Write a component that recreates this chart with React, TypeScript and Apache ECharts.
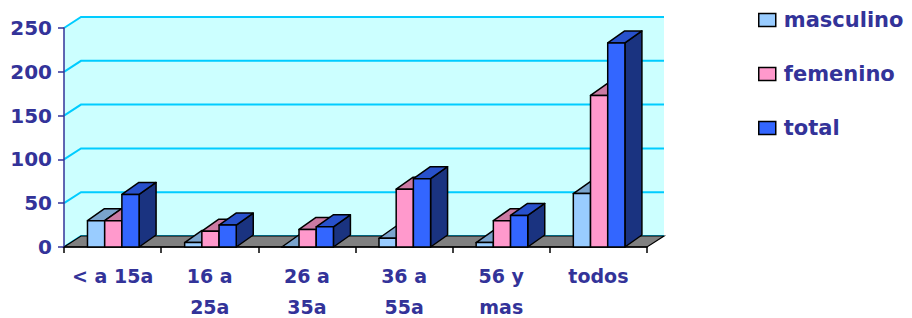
import React, { useEffect, useRef } from "react";
import * as echarts from "echarts";

const categories = ["< a 15a", "16 a\n25a", "26 a\n35a", "36 a\n55a", "56 y\nmas", "todos"];
const masculino = [30, 5, 0, 10, 5, 61];
const femenino = [30, 18, 20, 66, 30, 173];
const total = [60, 25, 23, 78, 36, 233];
const yTicks = [0, 50, 100, 150, 200, 250];
const seriesNames = ["masculino", "femenino", "total"];

const NAVY = "#333399";
const FONT = "DejaVu Sans";
const BAR_DX = 17;
const BAR_DY = -12;
const WALL_DX = 17;
const WALL_DY = -11;

const palettes = [
  { front: "#99CCFF", top: "#7AA3CC", side: "#4D6680" },
  { front: "#FF99CC", top: "#CC7AA3", side: "#804D66" },
  { front: "#3366FF", top: "#2851CC", side: "#1A3380" },
];

function barRenderer(idx: number) {
  const pal = palettes[idx];
  return (params: any, api: any) => {
    const ci = api.value(0);
    const v = api.value(1);
    const p1 = api.coord([ci, v]);
    const p0 = api.coord([ci, 0]);
    const cx = p1[0];
    const y1 = p1[1];
    const y0 = p0[1];
    const cw = api.size([1, 0])[0];
    const bw = cw * 0.177;
    const x0 = cx - 1.5 * bw + idx * bw + 0.7;
    const x1 = x0 + bw;
    const st = { stroke: "#000", lineWidth: 1.5, lineJoin: "round" };
    return {
      type: "group",
      children: [
        {
          type: "polygon",
          shape: { points: [[x1, y1], [x1 + BAR_DX, y1 + BAR_DY], [x1 + BAR_DX, y0 + BAR_DY], [x1, y0]] },
          style: { fill: pal.side, ...st },
        },
        {
          type: "polygon",
          shape: { points: [[x0, y1], [x1, y1], [x1 + BAR_DX, y1 + BAR_DY], [x0 + BAR_DX, y1 + BAR_DY]] },
          style: { fill: pal.top, ...st },
        },
        {
          type: "rect",
          shape: { x: x0, y: y1, width: bw, height: y0 - y1 },
          style: { fill: pal.front, ...st },
        },
      ],
    };
  };
}

function wallRenderer(params: any, api: any) {
  const cs = params.coordSys;
  const L = cs.x;
  const R = cs.x + cs.width;
  const T = cs.y;
  const B = cs.y + cs.height;
  const children: any[] = [
    {
      type: "polygon",
      shape: { points: [[L, T], [L + WALL_DX, T + WALL_DY], [R + WALL_DX, T + WALL_DY], [R + WALL_DX, B + WALL_DY], [L + WALL_DX, B + WALL_DY], [L, B]] },
      style: { fill: "#CCFFFF", stroke: null },
    },
  ];
  yTicks.forEach((t) => {
    const y = api.coord([0, t])[1];
    children.push({
      type: "polyline",
      shape: { points: [[L, y], [L + WALL_DX, y + WALL_DY], [R + WALL_DX, y + WALL_DY]] },
      style: { stroke: "#00CCFF", lineWidth: 2, fill: null },
    });
  });
  children.push({
    type: "polygon",
    shape: { points: [[L, B], [R, B], [R + WALL_DX, B + WALL_DY], [L + WALL_DX, B + WALL_DY]] },
    style: { fill: "#808080", stroke: "#000", lineWidth: 1.2 },
  });
  return { type: "group", children };
}

const labelStyle = { color: NAVY, fontFamily: FONT, fontWeight: "bold", fontSize: 19 };

export default function App() {
  const ref = useRef<HTMLDivElement>(null);
  useEffect(() => {
    if (!ref.current) return;
    const chart = echarts.init(ref.current, undefined, { renderer: "svg" });
    const valuesBySeries = [masculino, femenino, total];
    chart.setOption({
      animation: false,
      backgroundColor: "#ffffff",
      grid: { left: 64, right: 265, top: 28, bottom: 71, containLabel: false, outerBoundsMode: "none" },
      legend: {
        orient: "vertical",
        left: 758,
        top: 8,
        padding: 0,
        itemWidth: 17,
        itemHeight: 13,
        itemGap: 30,
        icon: "rect",
        itemStyle: { borderColor: "#000", borderWidth: 1.5 },
        textStyle: {
          color: NAVY,
          fontFamily: FONT,
          fontWeight: "bold",
          fontSize: 21,
          lineHeight: 24,
          padding: [0, 0, 0, 3],
        },
        data: seriesNames,
      },
      xAxis: {
        type: "category",
        data: categories,
        boundaryGap: true,
        axisLine: { show: true, lineStyle: { color: "#000", width: 1.5 } },
        axisTick: { show: true, length: 6, lineStyle: { color: "#000", width: 1.5 } },
        axisLabel: {
          ...labelStyle,
          margin: 6,
          interval: 0,
          formatter: (v: string) =>
            v
              .split("\n")
              .map((line, i) => (i === 0 ? `{a|${line}}` : `{b|${line}}`))
              .join("\n"),
          rich: {
            a: { ...labelStyle, lineHeight: 46 },
            b: { ...labelStyle, lineHeight: 16 },
          },
        },
        z: 1,
      },
      yAxis: {
        type: "value",
        min: 0,
        max: 250,
        interval: 50,
        axisLine: { show: true, lineStyle: { color: NAVY, width: 1.5 } },
        axisTick: { show: true, length: 6, lineStyle: { color: NAVY, width: 1.5 } },
        splitLine: { show: false },
        axisLabel: { color: NAVY, fontFamily: FONT, fontWeight: "bold", fontSize: 20, margin: 12 },
        z: 1,
      },
      series: [
        {
          type: "custom",
          name: "wall",
          z: -1,
          silent: true,
          renderItem: wallRenderer,
          encode: { x: 0, y: 1 },
          data: [[0, 0]],
        },
        ...seriesNames.map((name, idx) => ({
          type: "custom",
          name,
          z: 3,
          itemStyle: { color: palettes[idx].front, borderColor: "#000", borderWidth: 1.5 },
          renderItem: barRenderer(idx),
          encode: { x: 0, y: 1 },
          data: valuesBySeries[idx].map((v, i) => [i, v]),
        })),
      ],
    });
    return () => chart.dispose();
  }, []);
  return (
    <div
      ref={ref}
      style={{ position: "absolute", left: 0, top: 0, width: 912, height: 318 }}
    />
  );
}
